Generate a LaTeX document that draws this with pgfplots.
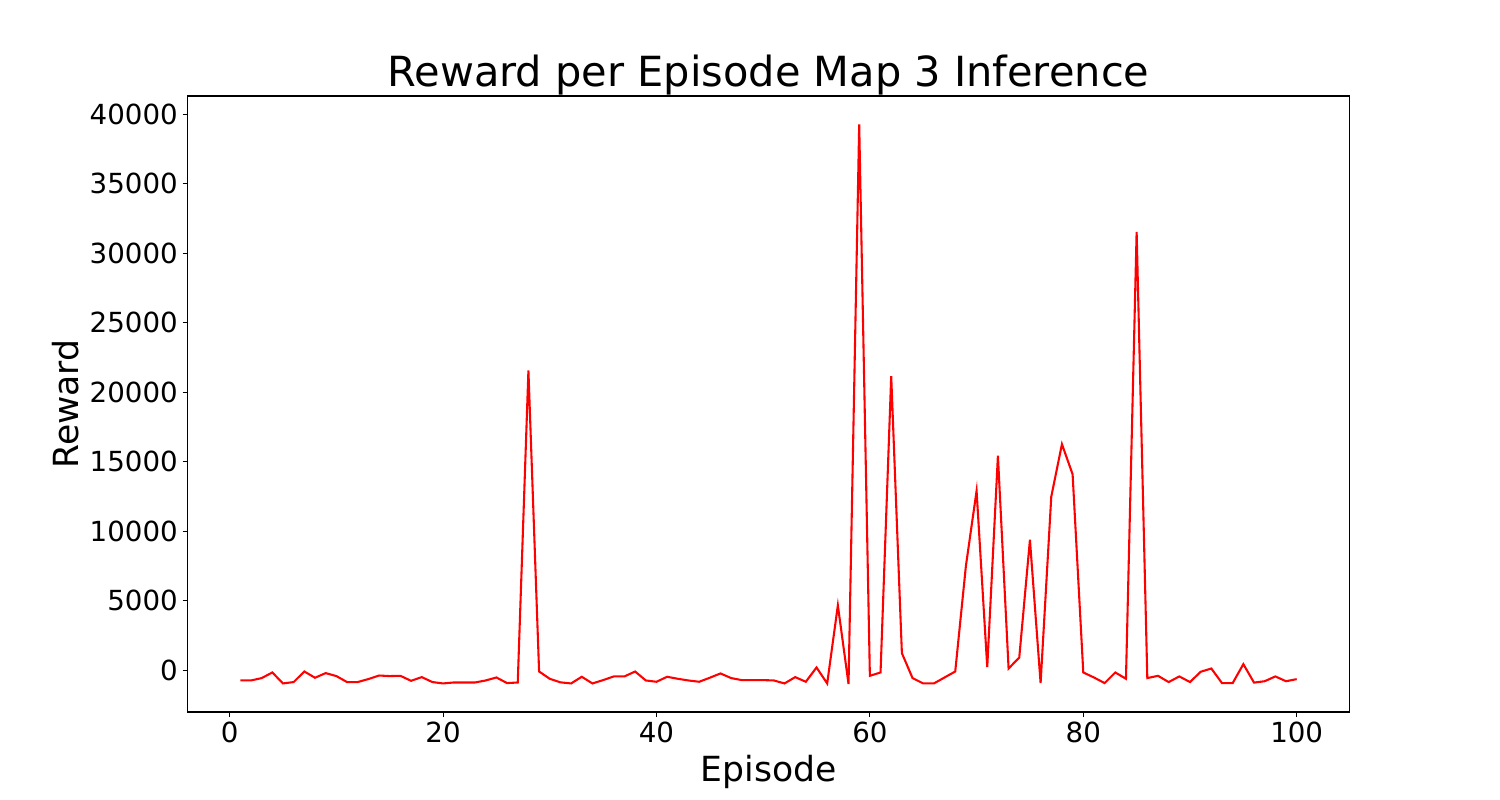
\documentclass[border=0pt]{standalone}
\usepackage{pgfplots}
\pgfplotsset{compat=1.18}
\usepackage{fontspec}
\setmainfont{DejaVu Sans}

\pgfplotstableread{
ep reward
1 -745
2 -745
3 -575
4 -170
5 -960
6 -860
7 -100
8 -550
9 -215
10 -430
11 -860
12 -860
13 -645
14 -390
15 -430
16 -410
17 -770
18 -505
19 -860
20 -960
21 -890
22 -890
23 -890
24 -745
25 -530
26 -935
27 -890
28 21560
29 -100
30 -625
31 -880
32 -960
33 -480
34 -960
35 -720
36 -455
37 -455
38 -100
39 -745
40 -840
41 -480
42 -625
43 -745
44 -840
45 -550
46 -240
47 -575
48 -720
49 -720
50 -720
51 -745
52 -960
53 -505
54 -840
55 190
56 -960
57 4660
58 -1000
59 39280
60 -410
61 -170
62 21150
63 1220
64 -575
65 -960
66 -960
67 -530
68 -100
69 7500
70 12900
71 215
72 15430
73 115
74 905
75 9380
76 -935
77 12480
78 16260
79 14090
80 -170
81 -530
82 -935
83 -170
84 -625
85 31540
86 -575
87 -410
88 -860
89 -455
90 -860
91 -120
92 115
93 -935
94 -935
95 430
96 -900
97 -800
98 -455
99 -800
100 -650
}\rewards

\begin{document}
\begin{tikzpicture}
\begin{axis}[
    name=main,
    scale only axis,
    width=836.64bp,
    height=443.52bp,
    xmin=-3.95, xmax=104.95,
    ymin=-3015, ymax=41315,
    xtick={0,20,40,60,80,100},
    ytick={0,5000,10000,15000,20000,25000,30000,35000,40000},
    scaled y ticks=false,
    /pgf/number format/assume math mode=true,
    yticklabel style={/pgf/number format/1000 sep={}},
    tick label style={font=\fontsize{20}{24}\selectfont},
    tick align=outside,
    tick pos=left,
    major tick length=3.5bp,
    every tick/.style={black, line width=0.8bp},
    axis line style={line width=0.8bp},
    xlabel={Episode},
    ylabel={Reward},
    xlabel style={yshift=-2bp},
    ylabel style={yshift=1bp},
    label style={font=\fontsize{25}{30}\selectfont},
    title={Reward per Episode Map 3 Inference},
    title style={font=\fontsize{30}{36}\selectfont, yshift=-9bp},
]
\addplot[color=red, line width=1.5bp] table[x=ep, y=reward] {\rewards};
\end{axis}
\path (main.south west) ++(-135bp,-63.36bp) rectangle ++(1080bp,576bp);
\end{tikzpicture}
\end{document}
